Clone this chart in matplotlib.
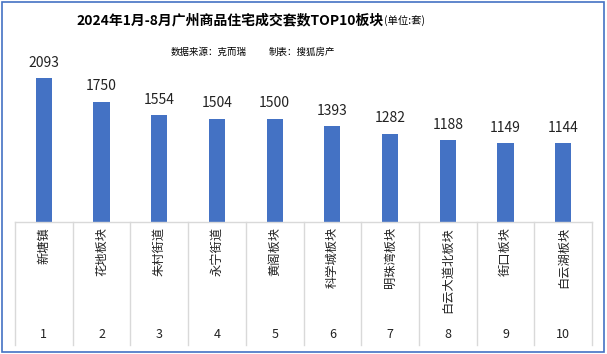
import matplotlib
matplotlib.use("Agg")
import matplotlib.pyplot as plt
from matplotlib.patches import Rectangle

plt.rcParams['font.family'] = ['Noto Sans CJK SC', 'DejaVu Sans']

# data
areas = ["新塘镇", "花地板块", "朱村街道", "永宁街道", "黄阁板块",
         "科学城板块", "明珠湾板块", "白云大道北板块", "街口板块", "白云湖板块"]
ranks = ["1", "2", "3", "4", "5", "6", "7", "8", "9", "10"]
deals = [2093, 1750, 1554, 1504, 1500, 1393, 1282, 1188, 1149, 1144]

W, H = 607, 354
blue = "#4472C4"
grid = "#D9D9D9"

fig = plt.figure(figsize=(W / 100, H / 100), dpi=100)
fig.patches.append(Rectangle((2 / W, 2 / H), 602 / W, 350 / H, transform=fig.transFigure,
                             fill=False, edgecolor=blue, linewidth=1.2))

# plot area: x 15..592 px, y 50..222 px
ax = fig.add_axes([15 / W, (H - 222) / H, 577 / W, 172 / H])
x = list(range(len(areas)))
ax.bar(x, deals, width=0.28, color=blue)
ax.set_xlim(-0.5, len(areas) - 0.5)
ax.set_ylim(0, 2500)
for s in ["top", "left", "right"]:
    ax.spines[s].set_visible(False)
ax.spines["bottom"].set_color(grid)
ax.spines["bottom"].set_linewidth(1)
ax.set_xticks([])
ax.set_yticks([])

for xi, v in zip(x, deals):
    ax.annotate(str(v), (xi, v), xytext=(0, 6), textcoords="offset points",
                ha="center", va="bottom", fontsize=10, color="#222222")

# table below the axis
tr = ax.get_xaxis_transform()
px = 1 / 172
for b in range(len(areas) + 1):
    ax.plot([b - 0.5, b - 0.5], [0, -123 * px], transform=tr, color=grid,
            linewidth=1, clip_on=False)
for xi, name, r in zip(x, areas, ranks):
    ax.text(xi, -5 * px, name, transform=tr, rotation=90, ha="center", va="top",
            fontsize=8.8, color="#222222")
    ax.text(xi, -113 * px, r, transform=tr, ha="center", va="center",
            fontsize=9, color="#222222")

# titles
t = fig.text(76 / W, 1 - 20 / H, "2024年1月-8月广州商品住宅成交套数TOP10板块",
             ha="left", va="center", fontsize=10, fontweight="bold", color="black")
fig.canvas.draw()
bb = t.get_window_extent()
fig.text(bb.x1 / W + 0.002, 1 - 21 / H, "(单位:套)", ha="left", va="center",
         fontsize=7.5, color="black")
fig.text(171 / W, 1 - 52 / H, "数据来源：克而瑞", ha="left", va="center",
         fontsize=6.8, color="black")
fig.text(269 / W, 1 - 52 / H, "制表：搜狐房产", ha="left", va="center",
         fontsize=6.8, color="black")

fig.savefig("out.png", dpi=100)
